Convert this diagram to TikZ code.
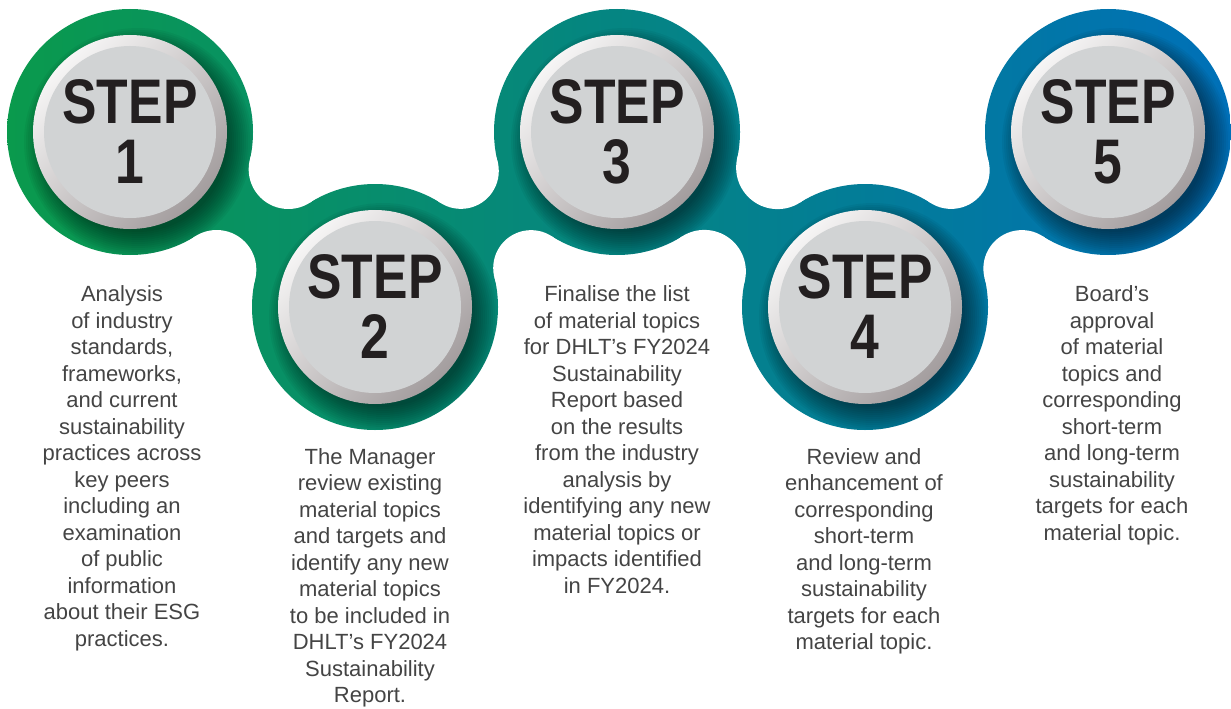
\documentclass[tikz,border=0pt]{standalone}
\usepackage{fontspec}
\setmainfont{Liberation Sans}
\newfontfamily\stepfont[FakeStretch=0.82]{Liberation Sans}
\usetikzlibrary{calc}

\definecolor{ringL}{HTML}{0A9A4C}
\definecolor{ringM}{HTML}{008B8C}
\definecolor{ringR}{HTML}{0070B8}
\definecolor{face}{HTML}{D1D3D4}
\definecolor{rimhi}{HTML}{F6F5F5}
\definecolor{rimlo}{HTML}{A39D9E}
\definecolor{ink}{HTML}{231F20}
\definecolor{bodyink}{HTML}{444444}

\tikzset{
  stepnum/.style={align=center, inner sep=0pt, text=ink,
    font={\stepfont\bfseries\fontsize{63}{60}\selectfont}},
  bodytext/.style={align=center, inner sep=0pt, text=bodyink, anchor=north,
    font={\fontsize{22}{26.5}\selectfont}},
}

\begin{document}
\begin{tikzpicture}[x=1pt,y=1pt]
\useasboundingbox (0,0) rectangle (1231,-709);

% ring centres
\coordinate (c1) at (130,-132);
\coordinate (c2) at (375,-307);
\coordinate (c3) at (617,-132);
\coordinate (c4) at (865,-307);
\coordinate (c5) at (1108,-132);

% centres of the fillet circles that shape each neck
\coordinate (a12) at ($(c1)!0.5!(c2)!61.7pt!90:(c2)$);
\coordinate (b12) at ($(c1)!0.5!(c2)!61.7pt!-90:(c2)$);
\coordinate (a23) at ($(c2)!0.5!(c3)!59.9pt!90:(c3)$);
\coordinate (b23) at ($(c2)!0.5!(c3)!59.9pt!-90:(c3)$);
\coordinate (a34) at ($(c3)!0.5!(c4)!63.5pt!90:(c4)$);
\coordinate (b34) at ($(c3)!0.5!(c4)!63.5pt!-90:(c4)$);
\coordinate (a45) at ($(c4)!0.5!(c5)!60.5pt!90:(c5)$);
\coordinate (b45) at ($(c4)!0.5!(c5)!60.5pt!-90:(c5)$);

% the chain of rings with its colour ramp
\begin{scope}
  \clip (c1) circle (123pt) (c2) circle (123pt) (c3) circle (123pt)
        (c4) circle (123pt) (c5) circle (123pt)
        (c1) -- (b12) -- (c2) -- (a12) -- cycle
        (c2) -- (b23) -- (c3) -- (a23) -- cycle
        (c3) -- (b34) -- (c4) -- (a34) -- cycle
        (c4) -- (b45) -- (c5) -- (a45) -- cycle;
  \shade[left color=ringL, middle color=ringM, right color=ringR]
        (0,0) rectangle (1231,-709);
  % soft shadow cast by each button
  \foreach \c in {c1,c2,c3,c4,c5}{
    \foreach \r in {90,92,...,114}{
      \fill[black, opacity=0.045] ($(\c)+(8,-10)$) circle (\r pt);
    }
  }
\end{scope}

% concave fillets between neighbouring rings
\fill[white] (a12) circle (39.7pt) (b12) circle (39.7pt)
             (a23) circle (37.9pt) (b23) circle (37.9pt)
             (a34) circle (41.5pt) (b34) circle (41.5pt)
             (a45) circle (38.5pt) (b45) circle (38.5pt);

% grey buttons
\foreach \c in {c1,c2,c3,c4,c5}{
  \shade[top color=rimhi, bottom color=rimlo, shading angle=45] (\c) circle (97pt);
  \fill[face] (\c) circle (86pt);
}

\node[stepnum] (s1) at (c1) {STEP\\1};
\node[stepnum] (s2) at (c2) {STEP\\2};
\node[stepnum] (s3) at (c3) {STEP\\3};
\node[stepnum] (s4) at (c4) {STEP\\4};
\node[stepnum] (s5) at (c5) {STEP\\5};

\node[bodytext] (t1) at (122,-285.5) {Analysis\\of industry\\standards,\\frameworks,\\and current\\sustainability\\practices across\\key peers\\including an\\examination\\of public\\information\\about their ESG\\practices.};
\node[bodytext] (t2) at (370,-448) {The Manager\\review existing\\material topics\\and targets and\\identify any new\\material topics\\to be included in\\DHLT’s FY2024\\Sustainability\\Report.};
\node[bodytext] (t3) at (617,-285.5) {Finalise the list\\of material topics\\for DHLT’s FY2024\\Sustainability\\Report based\\on the results\\from the industry\\analysis by\\identifying any new\\material topics or\\impacts identified\\in FY2024.};
\node[bodytext] (t4) at (864,-448) {Review and\\enhancement of\\corresponding\\short-term\\and long-term\\sustainability\\targets for each\\material topic.};
\node[bodytext] (t5) at (1112,-285.5) {Board’s\\approval\\of material\\topics and\\corresponding\\short-term\\and long-term\\sustainability\\targets for each\\material topic.};
\end{tikzpicture}
\end{document}
